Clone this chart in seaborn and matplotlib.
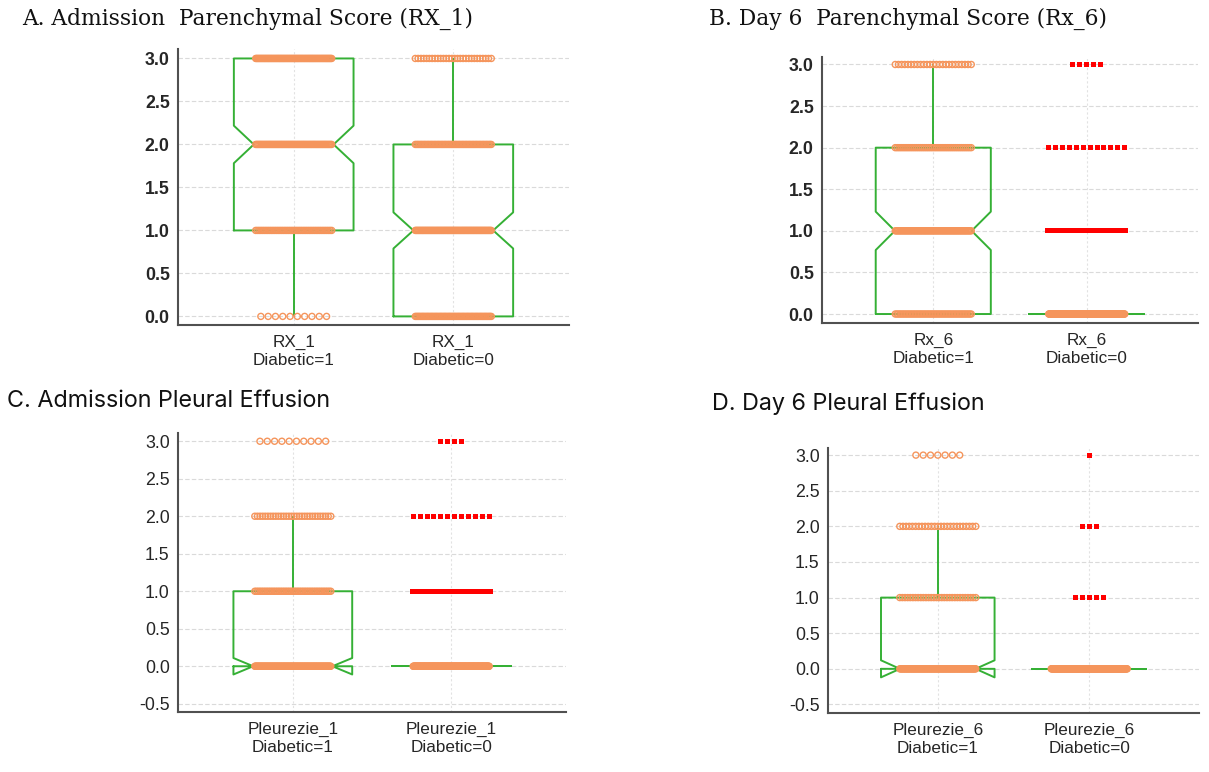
import numpy as np
import pandas as pd
import matplotlib
matplotlib.use("Agg")
import matplotlib.pyplot as plt
import seaborn as sns

# ---------------- data (counts of patients per score level 0,1,2,3) ----------------
levels = [0, 1, 2, 3]
rx1_diab1 = [10, 45, 70, 82]
rx1_diab0 = [60, 80, 55, 28]
rx6_diab1 = [50, 70, 40, 25]
rx6_diab0 = [160, 30, 12, 5]
pl1_diab1 = [120, 45, 30, 10]
pl1_diab0 = [170, 35, 12, 4]
pl6_diab1 = [110, 30, 25, 7]
pl6_diab0 = [150, 5, 3, 1]

titles = ["A. Admission  Parenchymal Score (RX_1)",
          "B. Day 6  Parenchymal Score (Rx_6)",
          "C. Admission Pleural Effusion",
          "D. Day 6 Pleural Effusion"]
variables = ["RX_1", "Rx_6", "Pleurezie_1", "Pleurezie_6"]
groups = ["Diabetic=1", "Diabetic=0"]
yticks_ab = [0.0, 0.5, 1.0, 1.5, 2.0, 2.5, 3.0]
yticks_cd = [-0.5, 0.0, 0.5, 1.0, 1.5, 2.0, 2.5, 3.0]

GREEN = "#35b035"
ORANGE = "#f5955c"
RED = "#ff0000"
BOX_W = 0.75
XLIM = (-0.725, 1.725)

sns.set_style("white")
plt.rcParams["axes.unicode_minus"] = False

W, H = 1209, 772
fig = plt.figure(figsize=(W / 100, H / 100), dpi=100)

panels = [
    dict(counts=(rx1_diab1, rx1_diab0), box=(178, 49, 569, 325), ylim=(-0.1, 3.11), yt=yticks_ab, bold=True),
    dict(counts=(rx6_diab1, rx6_diab0), box=(822, 57, 1198, 323), ylim=(-0.108, 3.09), yt=yticks_ab, bold=True),
    dict(counts=(pl1_diab1, pl1_diab0), box=(178, 433, 566, 712), ylim=(-0.61, 3.11), yt=yticks_cd, bold=False),
    dict(counts=(pl6_diab1, pl6_diab0), box=(828, 448, 1199, 713), ylim=(-0.62, 3.10), yt=yticks_cd, bold=False),
]
title_pos = [(22, 25, "serif"), (709, 25, "serif"), (7, 407, "sans"), (712, 410, "sans")]

for i, p in enumerate(panels):
    var = variables[i]
    order = [f"{var}\n{g}" for g in groups]
    rows = []
    for lab, cnt in zip(order, p["counts"]):
        for lv, c in zip(levels, cnt):
            rows += [(lab, lv)] * c
    df = pd.DataFrame(rows, columns=["grp", "val"])

    l, t, r, b = p["box"]
    ax = fig.add_axes([l / W, 1 - b / H, (r - l) / W, (b - t) / H])
    ax.set_axisbelow(True)

    sns.boxplot(data=df, x="grp", y="val", order=order, notch=True, width=BOX_W,
                fill=False, color=GREEN, linecolor=GREEN, linewidth=1.4,
                showfliers=False, showcaps=False, medianprops={"visible": False},
                ax=ax, zorder=2)
    # widen the notch waist (2/3 of the box width, as in the original software)
    for ln in ax.lines:
        xd = np.asarray(ln.get_xdata(), dtype=float)
        if len(xd) == 11:
            c = (xd[0] + xd[1]) / 2
            half = (xd[1] - xd[0]) / 2
            xd[3] = c + half * 2 / 3
            xd[8] = c - half * 2 / 3
            ln.set_xdata(xd)

    # dot plot: points of equal value spread evenly around the category centre
    unit_px = (r - l) / (XLIM[1] - XLIM[0])
    pts = []
    for k, lab in enumerate(order):
        vals = df.loc[df["grp"] == lab, "val"]
        q1, q3 = np.percentile(vals, [25, 75])
        iqr = q3 - q1
        for lv in levels:
            n = int((vals == lv).sum())
            if n == 0:
                continue
            far = (lv > q3 + 3 * iqr) or (lv < q1 - 3 * iqr)
            dot_px, span_px = (6.9, 78) if far else (7.3, 76)
            step = min(dot_px, span_px / max(n - 1, 1)) / unit_px
            offs = (np.arange(n) - (n - 1) / 2) * step
            for o in offs:
                pts.append((k + o, lv, far))
    pts = pd.DataFrame(pts, columns=["xpos", "val", "far"])

    n_coll = len(ax.collections)
    sns.scatterplot(data=pts[~pts["far"]], x="xpos", y="val", marker="o", s=19,
                    color=ORANGE, edgecolor=ORANGE, linewidth=1.0, ax=ax, zorder=3, legend=False)
    for coll in ax.collections[n_coll:]:
        coll.set_facecolor("none")
        coll.set_edgecolor(ORANGE)
    if pts["far"].any():
        n_coll = len(ax.collections)
        sns.scatterplot(data=pts[pts["far"]], x="xpos", y="val", marker="s", s=13,
                        color=RED, linewidth=0, ax=ax, zorder=3, legend=False)
        for coll in ax.collections[n_coll:]:
            coll.set_edgecolor("none")

    ax.set_xticks(range(len(order)))
    ax.set_xticklabels(order)
    ax.set_xlim(*XLIM)
    ax.set_ylim(*p["ylim"])
    ax.set_yticks(p["yt"])
    ax.set_yticklabels([f"{v:.1f}" for v in p["yt"]])
    ax.set_xlabel("")
    ax.set_ylabel("")
    ax.grid(axis="y", color="#dadada", linestyle=(0, (4, 2)), linewidth=0.8)
    ax.grid(axis="x", color="#e2e2e2", linestyle=(0, (2, 2)), linewidth=0.8)
    for s in ["top", "right"]:
        ax.spines[s].set_visible(False)
    for s in ["left", "bottom"]:
        ax.spines[s].set_color("#505050")
        ax.spines[s].set_linewidth(1.5)
    ax.tick_params(axis="x", direction="in", length=4, color="#606060", pad=7)
    ax.tick_params(axis="y", direction="out", length=4, color="#606060", pad=2)
    for lab in ax.get_xticklabels():
        lab.set_fontfamily("Liberation Sans")
        lab.set_fontsize(12.3)
        lab.set_linespacing(1.3)
    for lab in ax.get_yticklabels():
        lab.set_fontfamily("Liberation Sans")
        lab.set_fontsize(12.8)
        if p["bold"]:
            lab.set_fontweight("bold")

for (x, y, kind), txt in zip(title_pos, titles):
    if kind == "serif":
        fig.text(x / W, 1 - y / H, txt, ha="left", va="baseline",
                 family="DejaVu Serif", fontsize=15.7, color="#111111")
    else:
        fig.text(x / W, 1 - y / H, txt, ha="left", va="baseline",
                 family="Inter", fontsize=16.8, color="#111111")

fig.savefig("out.png", dpi=100)
